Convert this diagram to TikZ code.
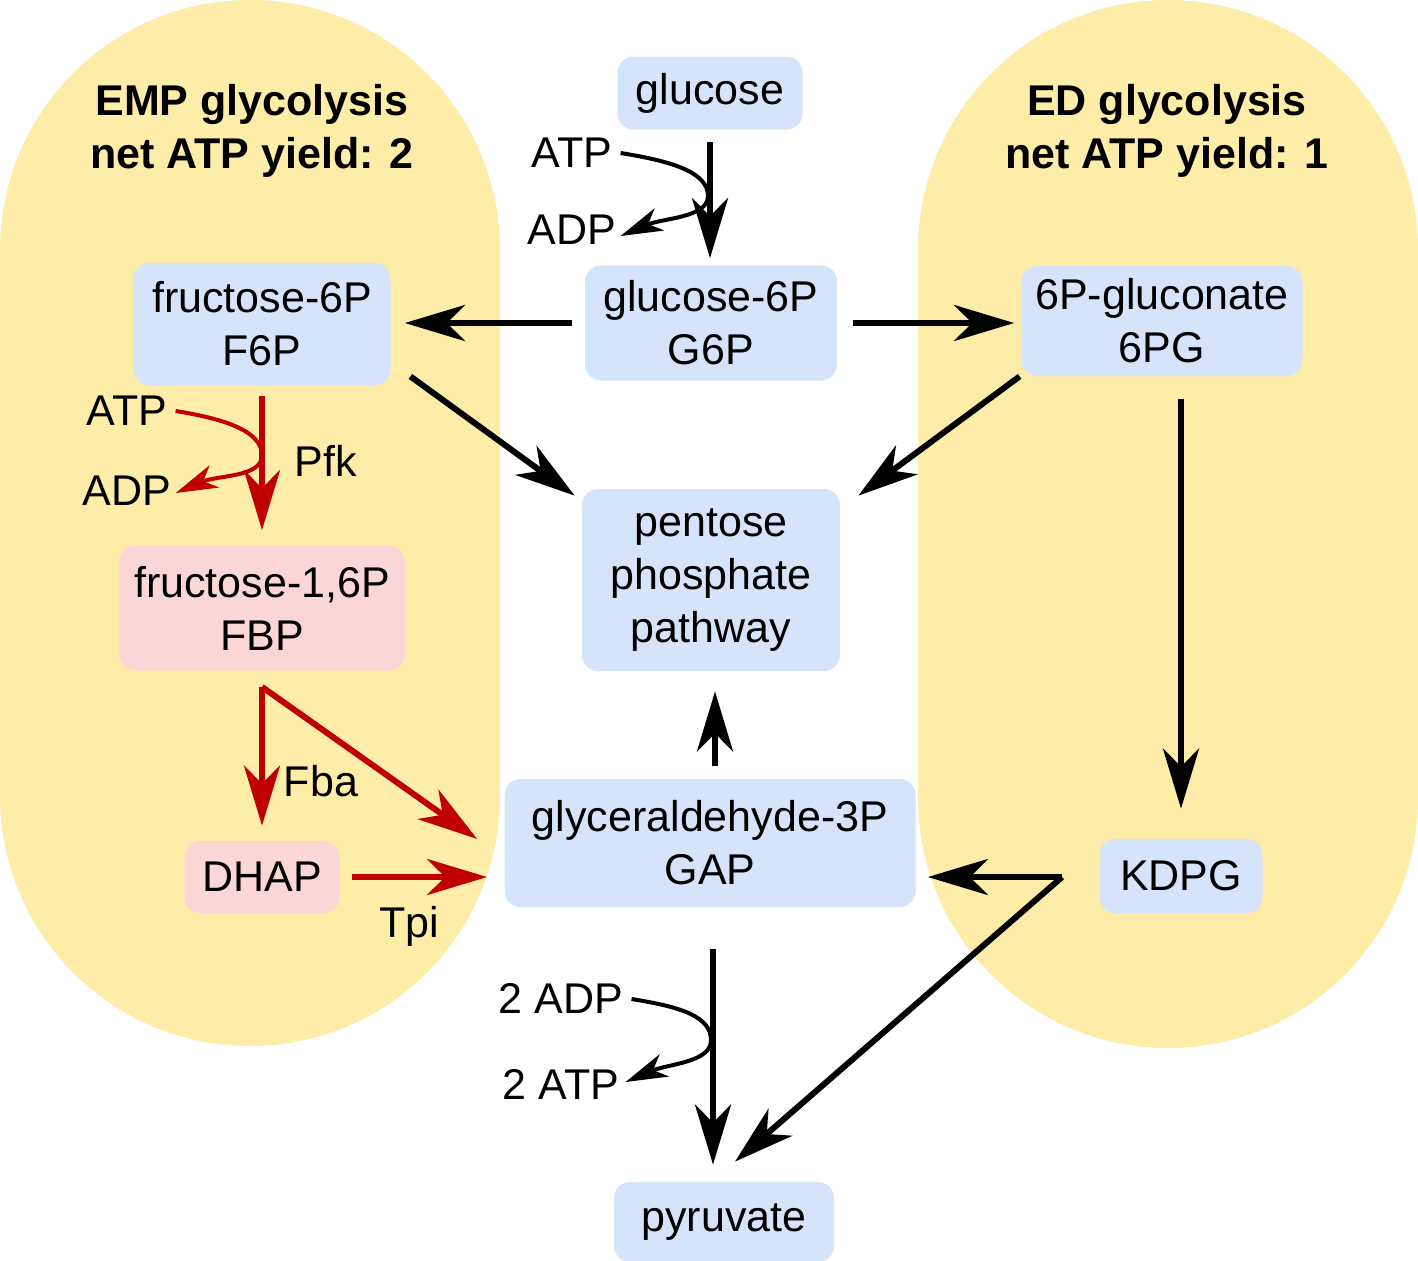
\documentclass[tikz,border=0pt]{standalone}
\usepackage{fontspec}
\setmainfont{Liberation Sans}
\usetikzlibrary{arrows.meta,calc}
\definecolor{pill}{HTML}{FEECA9}
\definecolor{boxblue}{HTML}{D6E4FB}
\definecolor{boxpink}{HTML}{FBD6D6}
\definecolor{darkred}{HTML}{C00000}
\begin{document}
\begin{tikzpicture}[x=0.5pt,y=-0.5pt,font=\fontsize{21.5}{26.5}\selectfont,
  box/.style={rounded corners=8pt,fill=boxblue,align=center,inner sep=0pt},
  pbox/.style={box,fill=boxpink},
  lbl/.style={inner sep=0pt},
  title/.style={inner sep=0pt,align=center,font=\fontsize{21.5}{26.5}\selectfont\bfseries},
  main/.style={line width=3pt,-{Stealth[length=30pt,width=18pt,inset=9pt]}},
  side/.style={line width=2pt,-{Stealth[length=21pt,width=12pt,inset=6pt]}}]
\useasboundingbox (0,0) rectangle (1418,1260);
% background pills
\fill[pill,rounded corners=125pt] (0,0) rectangle (500,1046);
\fill[pill,rounded corners=125pt] (918,0) rectangle (1418,1048);
% titles
\node[title] (t1) at (252,131) {EMP glycolysis\\net ATP yield: 2};
\node[title] (t2) at (1167,131) {ED glycolysis\\net ATP yield: 1};
% boxes
\node[box,minimum width=92.5pt,minimum height=36.5pt] (glc) at (710,93) {glucose};
\node[box,minimum width=126pt,minimum height=57.5pt] (g6p) at (711,323) {glucose-6P\\G6P};
\node[box,minimum width=128.5pt,minimum height=61pt] (f6p) at (262,324) {fructose-6P\\F6P};
\node[box,minimum width=140.5pt,minimum height=55pt] (pg) at (1162,321) {6P-gluconate\\6PG};
\node[box,minimum width=129pt,minimum height=91pt] (ppp) at (711,580) {pentose\\phosphate\\pathway};
\node[pbox,minimum width=142.5pt,minimum height=62.5pt] (fbp) at (262,608) {fructose-1,6P\\FBP};
\node[pbox,minimum width=77.5pt,minimum height=36pt] (dhap) at (262,877) {DHAP};
\node[box,minimum width=205.5pt,minimum height=64pt] (gap) at (710,843) {glyceraldehyde-3P\\GAP};
\node[box,minimum width=81.5pt,minimum height=37pt] (kdpg) at (1181,876) {KDPG};
\node[box,minimum width=110pt,minimum height=40pt] (pyr) at (724,1222) {pyruvate};
% labels
\node[lbl] (atp1) at (572,153) {ATP};
\node[lbl] (adp1) at (572,230) {ADP};
\node[lbl] (atp2) at (127,411) {ATP};
\node[lbl] (adp2) at (127,491) {ADP};
\node[lbl] (pfk) at (326,461) {Pfk};
\node[lbl] (fba) at (321,781) {Fba};
\node[lbl] (tpi) at (409,926) {Tpi};
\node[lbl] (adp3) at (561,998) {2 ADP};
\node[lbl] (atp3) at (561,1084) {2 ATP};
% black arrows
\draw[main,shorten <=6pt,shorten >=3.5pt] (glc.south) -- (glc.south |- g6p.north);
\coordinate (m1) at ($(glc.south)+(-2,66)$);
\draw[side] ($(atp1.east)+(8,0)$) .. controls +(50,8) and +(0,-24) .. (m1)
  .. controls +(0,22) and +(42,-18) .. ($(adp1.east)+(4,6)$);
\draw[main,shorten <=6.5pt,shorten >=7pt] (g6p.west) -- (g6p.west -| f6p.east);
\draw[main,shorten <=8pt,shorten >=3.5pt] (g6p.east) -- (g6p.east -| pg.west);
\draw[main] ($(f6p.south east)+(19.5,-9)$) -- ($(ppp.north west)+(-7,7)$);
\draw[main] ($(pg.south west)+(-1.5,0)$) -- ($(ppp.north east)+(18,7)$);
\draw[main,shorten <=11.5pt,shorten >=15pt] (kdpg.north |- pg.south) -- (kdpg.north);
\draw[main,shorten <=6.5pt,shorten >=10pt] (gap.north -| ppp.south) ++(4,0) coordinate (gu) (gu) -- (gu |- ppp.south);
\coordinate (kj) at ($(kdpg.west)+(-37,1)$);
\draw[main,shorten >=6pt] (kj) -- (kj -| gap.east);
\draw[main,line join=miter] (kj) -- ($(pyr.north)+(11,-20)$);
\coordinate (gd) at ($(gap.south)+(3,0)$);
\draw[main,shorten <=21pt,shorten >=8.5pt] (gd) -- (gd |- pyr.north);
\coordinate (m3) at ($(gd)+(-2,133)$);
\draw[side] ($(adp3.east)+(8,1)$) .. controls +(50,8) and +(0,-24) .. (m3)
  .. controls +(0,22) and +(42,-18) .. ($(atp3.east)+(6,-2)$);
% red arrows
\draw[main,darkred,shorten <=5.5pt,shorten >=7.5pt] (f6p.south) -- (fbp.north);
\coordinate (m2) at ($(f6p.south)+(0,70)$);
\draw[side,darkred] ($(atp2.east)+(8,0)$) .. controls +(50,8) and +(0,-24) .. (m2)
  .. controls +(0,22) and +(42,-18) .. ($(adp2.east)+(4,2)$);
\coordinate (fj) at ($(fbp.south)+(0,16)$);
\draw[main,darkred,shorten >=7.5pt] (fj) -- (dhap.north);
\draw[main,darkred] (fj) -- ($(gap.west)+(-27,-4)$);
\draw[main,darkred,shorten <=6pt,shorten >=8.5pt] (dhap.east) -- (dhap.east -| gap.west);
\end{tikzpicture}
\end{document}
